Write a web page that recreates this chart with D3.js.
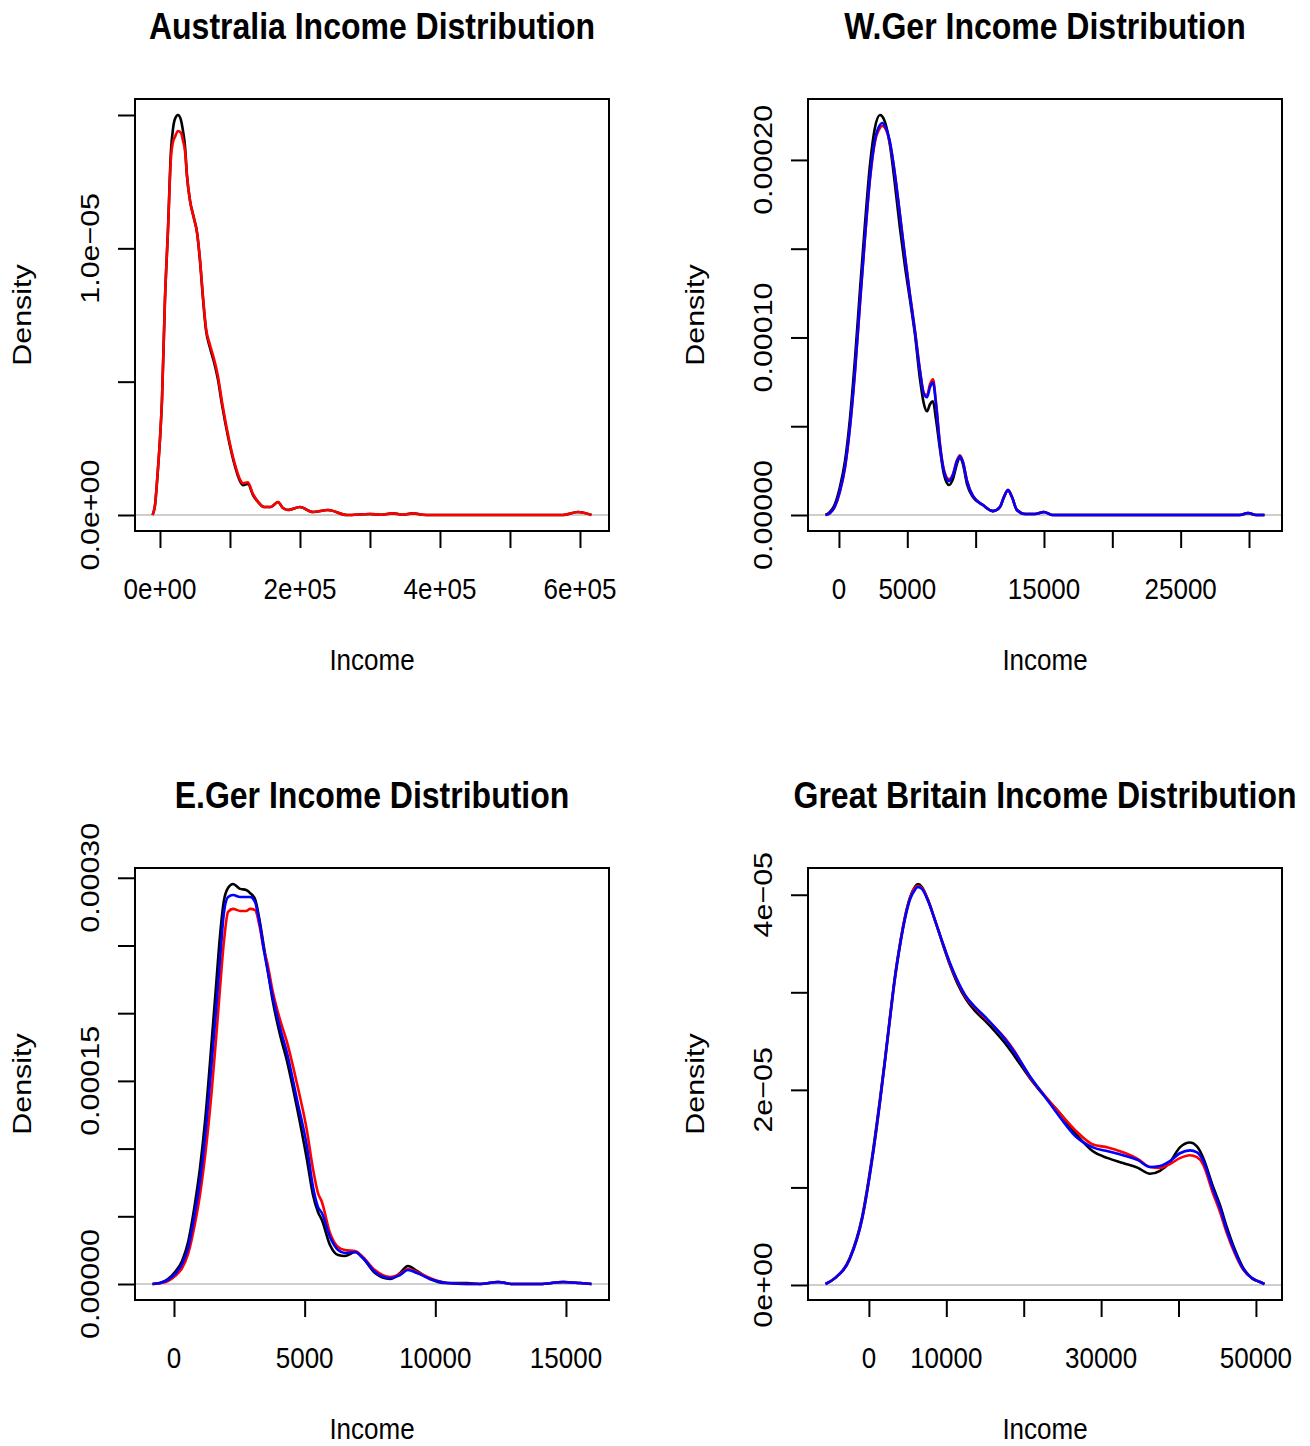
<!DOCTYPE html>
<html>
<head>
<meta charset="utf-8">
<script src="https://cdn.jsdelivr.net/npm/d3@7/dist/d3.min.js"></script>
<style>
    body { margin: 0; background: #fff; }
    text { font-family: "Liberation Sans", Arial, Helvetica, sans-serif; fill: #000; }
</style>
</head>
<body>
<svg id="chart" width="1310" height="1446"></svg>
<script>
// Density values are stored in units of 1e-5

// Australia
var ausIncome = [-10600, -7100, -2900, 0, 2900, 7100, 11400, 15700, 18600, 21400, 25700, 30000, 32900, 35700,
    38600, 42900, 48600, 52900, 57100, 61400, 65700, 71400, 77100, 82900, 88600, 97100, 107100, 114300, 118600,
    125700, 132900, 140000, 148600, 158600, 168600, 175700, 182900, 200000, 218600, 240000, 267100, 300000,
    316000, 332900, 347000, 361400, 375000, 385700, 485700, 575700, 597100, 616400];
var ausBlack = [0, 0.037, 0.172, 0.284, 0.433, 0.806, 1.067, 1.366, 1.448, 1.485, 1.500, 1.481, 1.440, 1.384,
    1.272, 1.179, 1.112, 1.060, 0.955, 0.813, 0.694, 0.627, 0.575, 0.507, 0.414, 0.295, 0.183, 0.127, 0.112,
    0.116, 0.075, 0.049, 0.030, 0.030, 0.049, 0.026, 0.019, 0.030, 0.011, 0.019, 0, 0.004, 0.001, 0.006,
    0.001, 0.006, 0.001, 0, 0, 0, 0.011, 0];
var ausRed = [0, 0.037, 0.172, 0.284, 0.433, 0.806, 1.067, 1.340, 1.399, 1.418, 1.440, 1.433, 1.403, 1.366,
    1.272, 1.179, 1.112, 1.060, 0.960, 0.820, 0.702, 0.638, 0.586, 0.519, 0.425, 0.303, 0.190, 0.134, 0.119,
    0.123, 0.078, 0.050, 0.030, 0.030, 0.049, 0.026, 0.019, 0.030, 0.011, 0.019, 0, 0.004, 0.001, 0.006,
    0.001, 0.006, 0.001, 0, 0, 0, 0.011, 0];
var ausXTicks = [0, 100000, 200000, 300000, 400000, 500000, 600000];
var ausXLabels = ['0e+00', '', '2e+05', '', '4e+05', '', '6e+05'];
var ausYTicks = [0, 0.5, 1.0, 1.5];
var ausYLabels = ['0.0e+00', '', '1.0e\u221205', ''];

// W.Ger
var wgerIncome = [-980, -660, -290, 70, 440, 800, 1170, 1540, 1900, 2270, 2630, 3000, 3150, 3370, 3730, 4100,
    4460, 4830, 5200, 5560, 5930, 6220, 6440, 6660, 6880, 7100, 7390, 7680, 8050, 8340, 8630, 8850, 9070,
    9370, 9800, 10540, 11270, 11780, 12070, 12370, 12660, 13020, 13610, 14340, 15000, 15590, 19100, 26400,
    29340, 29930, 30510, 31130];
var wgerBlack = [0, 0.17, 0.62, 1.57, 3.03, 5.39, 8.76, 12.70, 16.35, 19.72, 21.80, 22.53, 22.47, 22.13,
    20.84, 18.60, 16.18, 14.00, 12.10, 10.17, 7.64, 6.24, 5.84, 6.24, 6.40, 5.39, 3.71, 2.30, 1.69, 2.02,
    2.87, 3.26, 2.87, 1.74, 1.01, 0.56, 0.22, 0.45, 1.01, 1.40, 1.01, 0.28, 0.06, 0.06, 0.17, 0, 0, 0, 0,
    0.11, 0, 0];
var wgerRed = [0, 0.10, 0.48, 1.30, 2.65, 4.88, 8.00, 11.90, 15.55, 18.90, 21.00, 21.80, 21.91, 21.80,
    20.95, 19.16, 16.95, 14.60, 12.40, 10.40, 8.15, 6.85, 6.74, 7.36, 7.64, 6.35, 4.00, 2.55, 2.02, 2.30,
    3.08, 3.36, 3.00, 1.93, 1.07, 0.56, 0.22, 0.45, 1.01, 1.40, 1.01, 0.28, 0.06, 0.06, 0.17, 0, 0, 0, 0,
    0.11, 0, 0];
var wgerBlue = [0, 0.11, 0.51, 1.35, 2.70, 4.94, 8.09, 11.97, 15.62, 18.99, 21.12, 21.97, 22.08, 21.91,
    21.01, 19.16, 16.91, 14.55, 12.36, 10.34, 8.09, 6.80, 6.63, 7.19, 7.47, 6.24, 3.93, 2.47, 1.91, 2.25,
    3.03, 3.31, 2.98, 1.91, 1.07, 0.56, 0.22, 0.45, 1.01, 1.40, 1.01, 0.28, 0.06, 0.06, 0.17, 0, 0, 0, 0,
    0.11, 0, 0];
var wgerXTicks = [0, 5000, 10000, 15000, 20000, 25000, 30000];
var wgerXLabels = ['0', '5000', '', '15000', '', '25000', ''];
var wgerYTicks = [0, 5, 10, 15, 20];
var wgerYLabels = ['0.00000', '', '0.00010', '', '0.00020'];

// E.Ger
var egerIncome = [-820, -540, -230, 40, 310, 540, 800, 1000, 1190, 1450, 1610, 1760, 1910, 2070, 2260, 2530,
    2760, 2910, 3100, 3290, 3440, 3560, 3790, 4060, 4320, 4710, 5090, 5320, 5510, 5660, 5970, 6280, 6540,
    6930, 7230, 7690, 8270, 8650, 8950, 9300, 9800, 10450, 11210, 11710, 12400, 12970, 14010, 14890, 15540,
    15975];
var egerBlack = [0, 0.07, 0.37, 0.89, 1.70, 3.10, 5.91, 8.64, 12.04, 18.10, 22.01, 25.70, 28.30, 29.25,
    29.54, 29.18, 29.10, 28.88, 28.44, 26.70, 24.90, 23.50, 20.80, 18.39, 16.50, 13.00, 9.16, 6.57, 5.32,
    4.73, 2.88, 2.14, 2.07, 2.36, 1.92, 0.81, 0.37, 0.81, 1.33, 0.96, 0.37, 0.07, 0.07, 0, 0.15, 0, 0, 0.15,
    0.07, 0];
var egerRed = [0, 0.05, 0.22, 0.59, 1.18, 2.22, 4.43, 6.65, 9.45, 14.40, 18.10, 21.80, 25.26, 27.48, 27.70,
    27.55, 27.55, 27.70, 27.62, 26.30, 24.67, 23.80, 21.50, 19.50, 17.90, 14.77, 11.30, 8.49, 6.72, 6.06,
    3.77, 2.73, 2.51, 2.44, 1.99, 1.03, 0.52, 0.74, 1.11, 0.89, 0.44, 0.07, 0, 0, 0.15, 0, 0, 0.15, 0.07, 0];
var egerBlue = [0, 0.07, 0.30, 0.74, 1.48, 2.66, 5.24, 7.68, 10.86, 16.54, 20.24, 23.93, 27.40, 28.58,
    28.73, 28.58, 28.58, 28.58, 28.21, 26.52, 24.67, 23.40, 21.10, 18.90, 17.10, 13.59, 10.12, 7.16, 5.69,
    5.24, 3.47, 2.51, 2.29, 2.36, 1.92, 0.89, 0.44, 0.66, 1.03, 0.81, 0.37, 0.07, 0, 0, 0.15, 0, 0, 0.15,
    0.07, 0];
var egerXTicks = [0, 5000, 10000, 15000];
var egerXLabels = ['0', '5000', '10000', '15000'];
var egerYTicks = [0, 5, 10, 15, 20, 25, 30];
var egerYLabels = ['0.00000', '', '', '0.00015', '', '', '0.00030'];

// Great Britain
var gbIncome = [-5600, -4390, -2460, -900, 390, 1420, 2070, 2710, 3360, 4000, 4650, 5300, 5940, 6330, 6850,
    7620, 8530, 9430, 10470, 11500, 12530, 13700, 14990, 16280, 17570, 18860, 20800, 22740, 24680, 26620,
    28940, 30880, 32820, 34760, 36310, 37600, 38890, 40180, 41470, 42380, 43150, 44450, 45350, 46250, 47290,
    48320, 49480, 50520, 51100];
var gbBlack = [0.01, 0.07, 0.28, 0.69, 1.30, 1.90, 2.31, 2.74, 3.16, 3.49, 3.77, 3.97, 4.08, 4.11, 4.08,
    3.95, 3.74, 3.52, 3.28, 3.08, 2.93, 2.81, 2.71, 2.60, 2.48, 2.34, 2.12, 1.93, 1.76, 1.56, 1.37, 1.30,
    1.25, 1.20, 1.14, 1.17, 1.26, 1.41, 1.46, 1.42, 1.31, 1.01, 0.82, 0.59, 0.36, 0.18, 0.07, 0.03, 0.01];
var gbRed = [0.01, 0.07, 0.27, 0.67, 1.27, 1.87, 2.29, 2.72, 3.14, 3.48, 3.76, 3.96, 4.07, 4.09, 4.07,
    3.95, 3.74, 3.53, 3.29, 3.10, 2.95, 2.84, 2.74, 2.64, 2.53, 2.39, 2.13, 1.94, 1.76, 1.59, 1.44, 1.41,
    1.36, 1.29, 1.21, 1.20, 1.24, 1.30, 1.33, 1.31, 1.24, 0.94, 0.75, 0.53, 0.32, 0.16, 0.07, 0.03, 0.01];
var gbBlue = [0.01, 0.07, 0.27, 0.67, 1.27, 1.87, 2.29, 2.72, 3.14, 3.47, 3.75, 3.95, 4.05, 4.08, 4.06,
    3.94, 3.74, 3.53, 3.30, 3.11, 2.96, 2.85, 2.75, 2.64, 2.52, 2.38, 2.14, 1.93, 1.72, 1.53, 1.41, 1.37,
    1.33, 1.28, 1.21, 1.22, 1.27, 1.35, 1.38, 1.36, 1.28, 0.98, 0.79, 0.56, 0.34, 0.17, 0.07, 0.03, 0.01];
var gbXTicks = [0, 10000, 20000, 30000, 40000, 50000];
var gbXLabels = ['0', '10000', '', '30000', '', '50000'];
var gbYTicks = [0, 1, 2, 3, 4];
var gbYLabels = ['0e+00', '', '2e\u221205', '', '4e\u221205'];

var svg = d3.select('#chart');

// Plot region of each panel
var boxW = 474, boxH = 432;

// The reference glyphs are taller than they are wide
var stretch = 1.17;
var labelSize = 26 * stretch;
var titleSize = 32 * stretch;
var squeeze = 1 / stretch;

var panels = [
    { title: 'Australia Income Distribution', left: 135, top: 99, income: ausIncome,
      series: [{ v: ausBlack, c: 'black' }, { v: ausRed, c: 'red' }],
      xTicks: ausXTicks, xLabels: ausXLabels, yTicks: ausYTicks, yLabels: ausYLabels },
    { title: 'W.Ger Income Distribution', left: 808, top: 99, income: wgerIncome,
      series: [{ v: wgerBlack, c: 'black' }, { v: wgerRed, c: 'red' }, { v: wgerBlue, c: 'blue' }],
      xTicks: wgerXTicks, xLabels: wgerXLabels, yTicks: wgerYTicks, yLabels: wgerYLabels },
    { title: 'E.Ger Income Distribution', left: 135, top: 868, income: egerIncome,
      series: [{ v: egerBlack, c: 'black' }, { v: egerRed, c: 'red' }, { v: egerBlue, c: 'blue' }],
      xTicks: egerXTicks, xLabels: egerXLabels, yTicks: egerYTicks, yLabels: egerYLabels },
    { title: 'Great Britain Income Distribution', left: 808, top: 868, income: gbIncome,
      series: [{ v: gbBlack, c: 'black' }, { v: gbRed, c: 'red' }, { v: gbBlue, c: 'blue' }],
      xTicks: gbXTicks, xLabels: gbXLabels, yTicks: gbYTicks, yLabels: gbYLabels }
];

panels.forEach(drawPanel);

// horizontal text, squeezed sideways
function hPos(x, y) {
    return 'translate(' + [x, y] + ') scale(' + squeeze + ',1)';
}

// vertical text reading upwards
function vPos(x, y) {
    return 'translate(' + [x, y] + ') rotate(-90) scale(1,' + squeeze + ')';
}

function drawPanel(p) {
    var g = svg.append('g')
        .attr('transform', 'translate(' + [p.left, p.top] + ')');

    // R style limits: data range widened by 4% on each side
    var xExt = d3.extent(p.income);
    var xPad = (xExt[1] - xExt[0]) * 0.04;
    var yExt = d3.extent(d3.merge(p.series.map(s => s.v)));
    var yPad = (yExt[1] - yExt[0]) * 0.04;

    var x = d3.scaleLinear().domain([xExt[0] - xPad, xExt[1] + xPad]).range([0, boxW]);
    var y = d3.scaleLinear().domain([yExt[0] - yPad, yExt[1] + yPad]).range([boxH, 0]);

    // zero line
    g.append('line')
        .attr('x1', 0).attr('x2', boxW)
        .attr('y1', y(0)).attr('y2', y(0))
        .attr('stroke', '#bebebe')
        .attr('stroke-width', 1.6);

    var line = d3.line()
        .x((d, i) => x(p.income[i]))
        .y(d => y(d))
        .curve(d3.curveMonotoneX);

    p.series.forEach(function (s) {
        g.append('path')
            .attr('d', line(s.v))
            .attr('fill', 'none')
            .attr('stroke', s.c)
            .attr('stroke-width', 2.6);
    });

    // box
    g.append('rect')
        .attr('width', boxW).attr('height', boxH)
        .attr('fill', 'none')
        .attr('stroke', 'black')
        .attr('stroke-width', 2);

    // ticks
    var xAxis = g.append('g')
        .attr('transform', `translate(0, ${boxH})`)
        .call(d3.axisBottom(x).tickValues(p.xTicks).tickSize(17).tickFormat(''));
    var yAxis = g.append('g')
        .call(d3.axisLeft(y).tickValues(p.yTicks).tickSize(17).tickFormat(''));
    [xAxis, yAxis].forEach(function (a) {
        a.select('.domain').remove();
        a.selectAll('line').attr('stroke', 'black').attr('stroke-width', 2);
    });

    // tick labels
    g.selectAll('.x-label')
        .data(p.xTicks)
        .enter()
        .append('text')
        .attr('class', 'x-label')
        .attr('transform', d => hPos(x(d), boxH + 68))
        .attr('text-anchor', 'middle')
        .attr('font-size', labelSize)
        .text((d, i) => p.xLabels[i]);

    g.selectAll('.y-label')
        .data(p.yTicks)
        .enter()
        .append('text')
        .attr('class', 'y-label')
        .attr('transform', d => vPos(-36, y(d)))
        .attr('text-anchor', 'middle')
        .attr('font-size', labelSize)
        .text((d, i) => p.yLabels[i]);

    // axis titles and main title
    g.append('text')
        .attr('transform', hPos(boxW / 2, boxH + 139))
        .attr('text-anchor', 'middle')
        .attr('font-size', labelSize)
        .text('Income');

    g.append('text')
        .attr('transform', vPos(-104, boxH / 2))
        .attr('text-anchor', 'middle')
        .attr('font-size', labelSize)
        .text('Density');

    g.append('text')
        .attr('transform', hPos(boxW / 2, -60))
        .attr('text-anchor', 'middle')
        .attr('font-size', titleSize)
        .attr('font-weight', 'bold')
        .text(p.title);
}
</script>
</body>
</html>
